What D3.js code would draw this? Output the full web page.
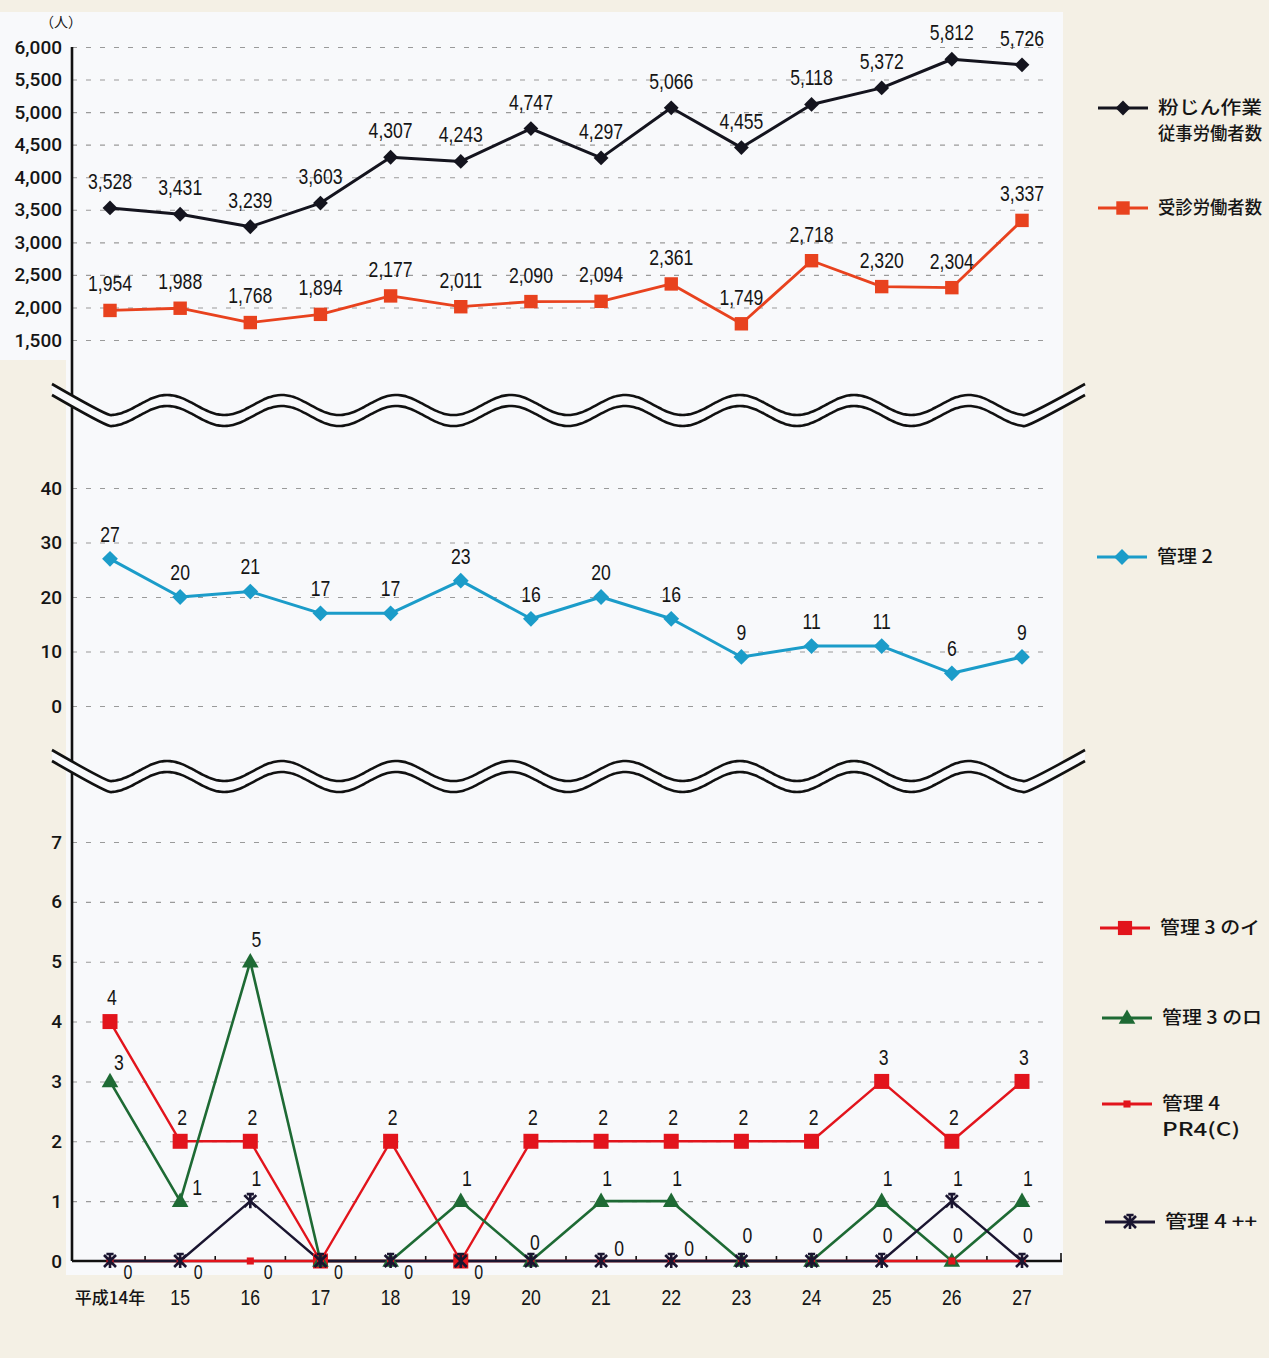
<!DOCTYPE html>
<html><head><meta charset="utf-8">
<script src="https://cdn.jsdelivr.net/npm/d3@7"></script>
<style>
html,body{margin:0;padding:0;background:#f4f0e5;}
svg{display:block;}
text{font-family:"Liberation Sans",Roboto,sans-serif;fill:#151515;}
.jp{font-family:"Noto Sans CJK JP","Noto Sans",sans-serif;}
</style></head>
<body>
<svg id="c" width="1269" height="1358"></svg>
<script>
// ---------- data ----------
const categories = ['平成14年','15','16','17','18','19','20','21','22','23','24','25','26','27'];
const dustWorkers = [3528,3431,3239,3603,4307,4243,4747,4297,5066,4455,5118,5372,5812,5726];
const examinedWorkers = [1954,1988,1768,1894,2177,2011,2090,2094,2361,1749,2718,2320,2304,3337];
const kanri2 = [27,20,21,17,17,23,16,20,16,9,11,11,6,9];
const kanri3i = [4,2,2,0,2,0,2,2,2,2,2,3,2,3];
const kanri3ro = [3,1,5,0,0,1,0,1,1,0,0,1,0,1];
const kanri4pr = [0,0,0,0,0,0,0,0,0,0,0,0,0,0];
const kanri4pp = [0,0,1,0,0,0,0,0,0,0,0,0,1,0];
const topTicks = [1500,2000,2500,3000,3500,4000,4500,5000,5500,6000];
const midTicks = [0,10,20,30,40];
const botTicks = [0,1,2,3,4,5,6,7];

// ---------- setup ----------
const svg = d3.select('#c');
const idx = d3.range(categories.length);
const x = d3.scalePoint().domain(idx).range([110,1022]);
const yTop = d3.scaleLinear().domain([1500,6000]).range([340,47]);
const yMid = d3.scaleLinear().domain([0,40]).range([706,488]);
const yBot = d3.scaleLinear().domain([0,7]).range([1261,842]);
const AX = 72, GRID_END = 1052;

// background panels
svg.append('path')
  .attr('d','M0,12H1063V1275H66V360H0Z')
  .attr('fill','#f8f9fb');

// gridlines + tick labels
function yAxis(scale, ticks, fmt, skipZero){
  const g = svg.append('g').attr('transform',`translate(${AX},0)`)
    .call(d3.axisLeft(scale).tickValues(ticks).tickSize(-(GRID_END-AX)).tickPadding(10).tickFormat(fmt));
  g.select('.domain').remove();
  g.selectAll('.tick line').attr('stroke','#9a9a9a').attr('stroke-width',1.1).attr('stroke-dasharray','5,9')
    .attr('opacity',d=> (skipZero && d===0)?0:1);
  g.selectAll('.tick text').style('font-family','Roboto,"Liberation Sans",sans-serif')
    .style('font-size','19px').style('font-weight',500).attr('fill','#151515');
  return g;
}
yAxis(yTop, topTicks, d3.format(','), false);
yAxis(yMid, midTicks, d3.format('d'), false);
yAxis(yBot, botTicks, d3.format('d'), true);

svg.append('text').attr('x',61).attr('y',22).attr('text-anchor','middle').attr('dy','0.35em')
  .attr('class','jp').style('font-size','14px').text('（人）');

// vertical axis line
svg.append('line').attr('x1',AX).attr('x2',AX).attr('y1',yTop(6000)).attr('y2',yBot(0))
  .attr('stroke','#111').attr('stroke-width',2.6);

// x axis
svg.append('line').attr('x1',AX).attr('x2',1062).attr('y1',yBot(0)).attr('y2',yBot(0))
  .attr('stroke','#111').attr('stroke-width',2.6);
const mids = idx.slice(0,-1).map(i => (x(i)+x(i+1))/2);
svg.selectAll('.xt').data(mids).join('line').attr('x1',d=>d).attr('x2',d=>d)
  .attr('y1',yBot(0)).attr('y2',yBot(0)-5).attr('stroke','#111').attr('stroke-width',1.6);
svg.append('line').attr('x1',1061).attr('x2',1061).attr('y1',yBot(0)).attr('y2',yBot(0)-8)
  .attr('stroke','#111').attr('stroke-width',1.6);

function label(x0,y0,t,opts={}){
  const s = opts.sx || 0.8, fs = opts.fs || 22;
  svg.append('text').attr('transform',`translate(${x0},${y0}) scale(${s},1)`)
    .attr('text-anchor',opts.anchor||'middle').attr('dy','0.36em')
    .style('font-size',fs+'px').attr('class',opts.cls||null).text(t);
}
categories.forEach((c,i)=>{
  if(i===0){
    svg.append('text').attr('x',x(i)).attr('y',1298).attr('dy','0.36em').attr('text-anchor','middle')
      .attr('class','jp').style('font-size','17px').style('font-weight',500).text(c);
  } else label(x(i),1297,c,{fs:22});
});

// ---------- markers ----------
const sym = (type,size) => d3.symbol(type,size)();
function drawSeries(vals, yS, color, width, marker){
  const line = d3.line().x((d,i)=>x(i)).y(d=>yS(d));
  svg.append('path').datum(vals).attr('d',line).attr('fill','none')
    .attr('stroke',color).attr('stroke-width',width).attr('stroke-linejoin','round');
  drawMarkers(vals,yS,color,marker);
}
function drawMarkers(vals,yS,color,marker){
  const g = svg.append('g');
  vals.forEach((v,i)=> addMarker(g, x(i), yS(v), color, marker));
}
function addMarker(g,cx,cy,color,marker){
  if(marker.type==='diamond'){
    g.append('path').attr('d',sym(d3.symbolSquare,marker.size)).attr('fill',color)
      .attr('transform',`translate(${cx},${cy}) rotate(45)`);
  } else if(marker.type==='square'){
    g.append('path').attr('d',sym(d3.symbolSquare,marker.size)).attr('fill',color)
      .attr('transform',`translate(${cx},${cy})`);
  } else if(marker.type==='triangle'){
    g.append('path').attr('d',sym(d3.symbolTriangle,marker.size)).attr('fill',color)
      .attr('transform',`translate(${cx},${cy+1})`);
  } else if(marker.type==='star'){
    const r = marker.size;
    g.append('path').attr('d',`M${-r},${-r}L${r},${r}M${-r},${r}L${r},${-r}M0,${-r-1}L0,${r+1}M${-r*0.6},${-r-1}L${r*0.6},${-r-1}`)
      .attr('stroke',color).attr('stroke-width',2.6).attr('fill','none')
      .attr('transform',`translate(${cx},${cy})`);
  }
}

// top panel
const cBlack='#14141e', cOrange='#e8421e', cBlue='#1b9cc9', cRed='#e2141c', cGreen='#1e6a34', cNavy='#1a1530';
drawSeries(dustWorkers, yTop, cBlack, 3, {type:'diamond',size:110});
drawSeries(examinedWorkers, yTop, cOrange, 2.8, {type:'square',size:180});
dustWorkers.forEach((v,i)=>label(x(i), yTop(v)-27, d3.format(',')(v)));
examinedWorkers.forEach((v,i)=>label(x(i), yTop(v)-27, d3.format(',')(v)));

// middle
drawSeries(kanri2, yMid, cBlue, 3, {type:'diamond',size:125});
kanri2.forEach((v,i)=>label(x(i), yMid(v)-25, v));

// bottom
const line = d3.line().x((d,i)=>x(i));
function path(vals,color,w){
  svg.append('path').datum(vals).attr('d',line.y(d=>yBot(d))).attr('fill','none')
    .attr('stroke',color).attr('stroke-width',w).attr('stroke-linejoin','round');
}
path(kanri3i,cRed,2.4);
path(kanri3ro,cGreen,2.6);
path(kanri4pr,cRed,2.6);
path(kanri4pp,cNavy,2.4);
drawMarkers(kanri3i,yBot,cRed,{type:'square',size:225});
drawMarkers(kanri3ro,yBot,cGreen,{type:'triangle',size:120});
drawMarkers(kanri4pr,yBot,cRed,{type:'square',size:50});
drawMarkers(kanri4pp,yBot,cNavy,{type:'star',size:6});

// bottom labels
kanri3i.forEach((v,i)=>{ if(v>0) label(x(i)+2, yBot(v)-24, v); });
kanri3ro.forEach((v,i)=>{
  if(v<=0) return;
  if(i===0) label(x(i)+9, yBot(v)-19, v);
  else if(i===1) label(x(i)+17, yBot(v)-14, v);
  else label(x(i)+6, yBot(v)-23, v);
});
kanri4pp.forEach((v,i)=>{ if(v>0) label(x(i)+6, yBot(v)-23, v); });
const zeroPlace = ['br','br','br','br','br','br','a2','r','r','a','a','a','a','a'];
const zeroOff = {br:[18,11], r:[18,-13], a:[6,-26], a2:[4,-19]};
zeroPlace.forEach((p,i)=>{ const o = zeroOff[p]; label(x(i)+o[0], yBot(0)+o[1], 0, {fs: p==='br'?20:22}); });

// ---------- wave breaks ----------
function wavePts(c){
  const P = 114.5, A = 10, pts = [[52,c-21]];
  for(let xx=110; xx<=1026; xx+=3) pts.push([xx, c + A*Math.cos(2*Math.PI*(xx-110)/P)]);
  pts.push([1085,c-21]);
  return pts;
}
function wave(c){
  const l = d3.line().curve(d3.curveCatmullRom);
  const p1 = wavePts(c), p2 = wavePts(c+11);
  svg.append('path').attr('d', l(p1) + 'L' + p2.slice().reverse().map(p=>p.join(',')).join('L') + 'Z')
    .attr('fill','#f8f9fb').attr('stroke','none');
  [p1,p2].forEach(p=> svg.append('path').attr('d',l(p)).attr('fill','none').attr('stroke','#111').attr('stroke-width',2.6));
}
wave(405);
wave(771);

// ---------- legends ----------
const legends = [
  {y:108, x1:1098, lines:['粉じん作業','従事労働者数'], lens:[104,104], color:cBlack, marker:{type:'diamond',size:110}},
  {y:208, x1:1098, lines:['受診労働者数'], lens:[104], color:cOrange, marker:{type:'square',size:180}},
  {y:557, x1:1097, lines:['管理 2'], lens:[56], color:cBlue, marker:{type:'diamond',size:125}},
  {y:928, x1:1100, lines:['管理 3 のイ'], lens:[100], color:cRed, marker:{type:'square',size:200}},
  {y:1018, x1:1102, lines:['管理 3 のロ'], lens:[100], color:cGreen, marker:{type:'triangle',size:120}},
  {y:1104, x1:1102, lines:['管理 4','PR4(C)'], lens:[58,78], color:cRed, marker:{type:'square',size:50}},
  {y:1222, x1:1105, lines:['管理 4 ++'], lens:[92], color:cNavy, marker:{type:'star',size:6}}
];
legends.forEach(L=>{
  const g = svg.append('g');
  g.append('line').attr('x1',L.x1).attr('x2',L.x1+50).attr('y1',L.y).attr('y2',L.y)
    .attr('stroke',L.color).attr('stroke-width',2.8);
  addMarker(g, L.x1+25, L.y, L.color, L.marker);
  L.lines.forEach((t,k)=>{
    g.append('text').attr('x',L.x1+60).attr('y',L.y + k*26).attr('dy','0.36em')
      .attr('class','jp').style('font-size','18px').style('font-weight',500)
      .attr('textLength',L.lens[k]).attr('lengthAdjust','spacingAndGlyphs').text(t);
  });
});
</script>
</body></html>
